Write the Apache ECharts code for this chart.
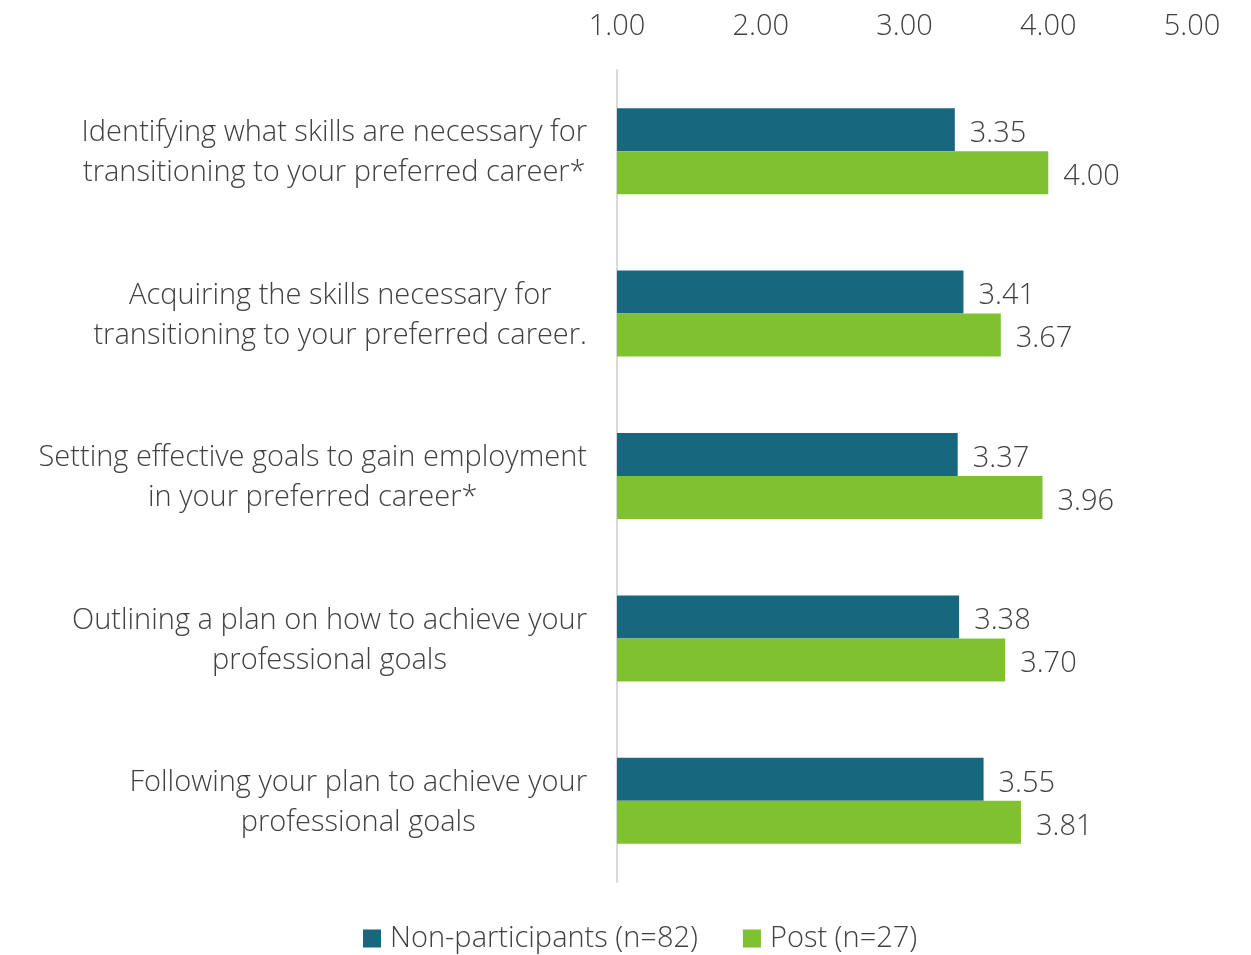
<!DOCTYPE html>
<html>
<head>
<meta charset="utf-8">
<script src="https://cdn.jsdelivr.net/npm/echarts@6/dist/echarts.min.js"></script>
<style>
  html, body { margin: 0; padding: 0; background: #fff; }
  #chart { width: 1251px; height: 955px; }
</style>
</head>
<body>
<div id="chart"></div>
<script>
// Survey items (each entry is the lines of the label)
const categories = [
  ['Identifying what skills are necessary for', 'transitioning to your preferred career*'],
  ['Acquiring the skills necessary for', 'transitioning to your preferred career.'],
  ['Setting effective goals to gain employment', 'in your preferred career*'],
  ['Outlining a plan on how to achieve your', 'professional goals'],
  ['Following your plan to achieve your', 'professional goals']
];
const seriesNames = ['Non-participants (n=82)', 'Post (n=27)'];
const nonParticipants = [3.35, 3.41, 3.37, 3.38, 3.55];
const post = [4.00, 3.67, 3.96, 3.70, 3.81];

const FONT = '"Open Sans", "Noto Sans", sans-serif';
const FS = 29;
const TEXT = '#404040';
const BLUE = '#17677F';
const GREEN = '#80C131';

const chart = echarts.init(document.getElementById('chart'));

const valueLabel = {
  show: true,
  position: 'right',
  distance: 15,
  offset: [0, 4],
  formatter: p => p.value.toFixed(2),
  fontFamily: FONT,
  fontWeight: 300,
  fontSize: FS,
  color: TEXT
};

chart.setOption({
  animation: false,
  backgroundColor: '#fff',
  grid: { left: 617, right: 59, top: 70, bottom: 73, containLabel: false },
  legend: {
    bottom: -3,
    left: 358,
    icon: 'rect',
    itemWidth: 18,
    itemHeight: 18,
    itemGap: 45,
    textStyle: { fontFamily: FONT, fontWeight: 300, fontSize: FS, color: TEXT, padding: [0, 0, 0, 4] },
    data: seriesNames
  },
  xAxis: {
    type: 'value',
    position: 'top',
    min: 1,
    max: 5,
    interval: 1,
    axisLine: { show: false },
    axisTick: { show: false },
    splitLine: { show: false },
    axisLabel: {
      margin: 29,
      formatter: v => v.toFixed(2),
      fontFamily: FONT,
      fontWeight: 300,
      fontSize: FS,
      color: TEXT
    }
  },
  yAxis: {
    type: 'category',
    inverse: true,
    data: categories.map(lines => lines.map(l => '{c|' + l + '}').join('\n')),
    axisLine: { show: true, lineStyle: { color: '#D9D9D9', width: 2 } },
    axisTick: { show: false },
    axisLabel: {
      margin: 30,
      align: 'right',
      padding: [4, 0, 0, 0],
      rich: {
        c: {
          align: 'center',
          fontFamily: FONT,
          fontWeight: 300,
          fontSize: FS,
          lineHeight: 40,
          color: TEXT
        }
      }
    }
  },
  series: [
    {
      name: seriesNames[0],
      type: 'bar',
      data: nonParticipants,
      barWidth: 43,
      barGap: '0%',
      itemStyle: { color: BLUE },
      label: valueLabel
    },
    {
      name: seriesNames[1],
      type: 'bar',
      data: post,
      barWidth: 43,
      barGap: '0%',
      itemStyle: { color: GREEN },
      label: valueLabel
    }
  ]
});
</script>
</body>
</html>
